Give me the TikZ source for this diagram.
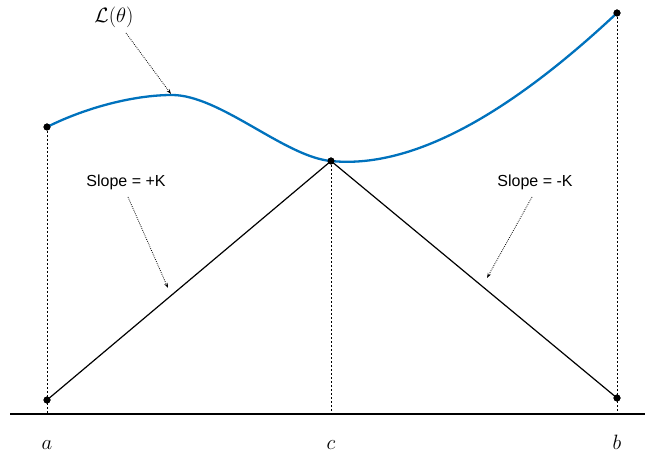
\documentclass[tikz,border=0pt]{standalone}
\usepackage{fontspec}
\newfontfamily\slopefont{Liberation Sans}
\usetikzlibrary{arrows.meta}
\definecolor{lossblue}{HTML}{0072BD}
\tikzset{
  dotpt/.style={circle,fill=black,inner sep=0pt,minimum size=7pt},
  guide/.style={line width=1pt,dash pattern=on 2pt off 2pt},
  pointer/.style={line width=0.8pt,dash pattern=on 0.8pt off 1.2pt,-{Stealth[length=5pt,width=3.5pt]}},
  slopelbl/.style={font=\slopefont\fontsize{16}{18}\selectfont,inner sep=0pt},
  mathlbl/.style={font=\fontsize{22}{25}\selectfont,inner sep=0pt},
  seg/.style={line width=1.2pt},
  loss/.style={line width=2.3pt,color=lossblue}
}
\begin{document}
\begin{tikzpicture}[x=1pt,y=-1pt]
\useasboundingbox (0,0) rectangle (645,454);
% points
\node[dotpt] (aTop) at (47,127) {};
\node[dotpt] (aBot) at (47,400) {};
\node[dotpt] (cPt) at (331,161) {};
\node[dotpt] (bTop) at (617,13) {};
\node[dotpt] (bBot) at (617,398) {};
\coordinate (aAx) at (47,414);
\coordinate (cAx) at (331,414);
\coordinate (bAx) at (617,414);
\coordinate (axL) at (10,414);
\coordinate (axR) at (645,414);
% axis
\draw[line width=1.1pt] (axL) -- (axR);
% guides
\draw[guide] (aTop.center) -- (aAx);
\draw[guide] (cPt.center) -- (cAx);
\draw[guide] (bTop.center) -- (bAx);
% slope lines
\draw[seg] (aBot.center) -- (cPt.center) -- (bBot.center);
% loss curve
\draw[loss] (aTop.center) .. controls (87,107) and (135,95) .. (172,95)
  .. controls (220,95) and (285,157) .. (cPt.center)
  .. controls (420,170) and (522,102) .. (bTop.center);
% redraw dots on top
\foreach \p in {aTop,aBot,cPt,bTop,bBot} \fill (\p) circle (3.5pt);
% labels
\node[mathlbl] (lossLbl) at (114,17) {$\mathcal{L}(\theta)$};
\node[slopelbl] (spLbl) at (126,182) {Slope = +K};
\node[slopelbl] (smLbl) at (535,182) {Slope = -K};
\coordinate (lossTail) at (126,33);
\coordinate (spTail) at (128,197);
\coordinate (smTail) at (532,197);
\coordinate (lossTip) at (171,94);
\coordinate (spTip) at (168,288);
\coordinate (smTip) at (487,278);
\draw[pointer] (lossTail) -- (lossTip);
\draw[pointer] (spTail) -- (spTip);
\draw[pointer] (smTail) -- (smTip);
\node[mathlbl,anchor=base] (aLbl) at (47,449) {$a$};
\node[mathlbl,anchor=base] (cLbl) at (331,449) {$c$};
\node[mathlbl,anchor=base] (bLbl) at (617,449) {$b$};
\end{tikzpicture}
\end{document}
